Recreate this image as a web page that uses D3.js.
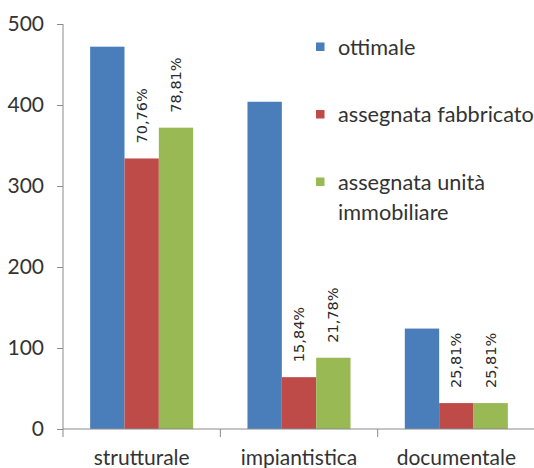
<!DOCTYPE html>
<html>
<head>
<meta charset="utf-8">
<script src="https://cdn.jsdelivr.net/npm/d3@7"></script>
<style>
  html, body { margin: 0; padding: 0; background: #fff; }
  svg { display: block; }
</style>
</head>
<body>
<svg id="chart" width="534" height="468"></svg>
<script>
// Categories and series
const categories = ["strutturale", "impiantistica", "documentale"];
const seriesNames = ["ottimale", "assegnata fabbricato", "assegnata unità immobiliare"];
const ottimale = [472, 404, 124];
const assegnataFabbricato = [334, 64, 32];
const assegnataUnita = [372, 88, 32];
const yTicks = [0, 100, 200, 300, 400, 500];
const colors = ["#4a7ebb", "#be4b48", "#98b954"];

const seriesValues = [ottimale, assegnataFabbricato, assegnataUnita];

const svg = d3.select("#chart");
const W = 534, H = 468;
const margin = { left: 63, right: 0, top: 24, bottom: 39 };
const axisFont = "Lato, 'Open Sans', sans-serif";
const textColor = "#333333";
const axisColor = "#8a8a8a";

const x = d3.scaleBand()
  .domain(categories)
  .range([margin.left, W + 1])
  .paddingInner(0.345)
  .paddingOuter(0.1725);

const xInner = d3.scaleBand()
  .domain(d3.range(seriesNames.length))
  .range([0, x.bandwidth()]);

const y = d3.scaleLinear()
  .domain([0, 500])
  .range([H - margin.bottom, margin.top]);

// Bars
const groups = svg.append("g").selectAll("g")
  .data(categories)
  .join("g")
  .attr("transform", d => `translate(${x(d)},0)`);

groups.selectAll("rect")
  .data((c, ci) => seriesValues.map((vals, si) => ({ si, v: vals[ci] })))
  .join("rect")
  .attr("x", d => xInner(d.si))
  .attr("width", xInner.bandwidth())
  .attr("y", d => y(d.v))
  .attr("height", d => y(0) - y(d.v))
  .attr("fill", d => colors[d.si]);

// Percentage labels (share of "ottimale"), rotated above the two assigned series
const pct = v => (v * 100).toFixed(2).replace(".", ",") + "%";
groups.selectAll("text.pct")
  .data((c, ci) => [1, 2].map(si => ({ si, v: seriesValues[si][ci], ref: ottimale[ci] })))
  .join("text")
  .attr("class", "pct")
  .attr("transform", d => `translate(${xInner(d.si) + xInner.bandwidth() / 2},${y(d.v) - 15}) rotate(-90)`)
  .attr("dy", "0.35em")
  .attr("text-anchor", "start")
  .attr("font-family", "'DejaVu Sans', sans-serif")
  .attr("font-size", 14.5)
  .attr("fill", "#2a2a2a")
  .text(d => pct(d.v / d.ref));

// Y axis
const yAxis = svg.append("g")
  .attr("transform", `translate(${margin.left},0)`)
  .call(d3.axisLeft(y).tickValues(yTicks).tickSize(6).tickPadding(13).tickSizeOuter(0));
yAxis.select(".domain").attr("stroke", axisColor).attr("d", `M0,${y(500)}V${y(0) + 8}`);
yAxis.selectAll(".tick line").attr("stroke", axisColor);
yAxis.selectAll(".tick text")
  .attr("font-family", axisFont)
  .attr("font-size", 21)
  .attr("fill", textColor);

// X axis with category separators
const xAxisG = svg.append("g").attr("transform", `translate(0,${y(0)})`);
xAxisG.append("line")
  .attr("x1", margin.left).attr("x2", W)
  .attr("y1", 0).attr("y2", 0)
  .attr("stroke", axisColor);
const bounds = categories.map(c => x(c) - x.step() * x.paddingInner() / 2).slice(1);
xAxisG.selectAll("line.sep")
  .data(bounds)
  .join("line")
  .attr("class", "sep")
  .attr("x1", d => d).attr("x2", d => d)
  .attr("y1", 0).attr("y2", 8)
  .attr("stroke", axisColor);
xAxisG.selectAll("text.cat")
  .data(categories)
  .join("text")
  .attr("class", "cat")
  .attr("x", d => x(d) + x.bandwidth() / 2)
  .attr("y", 36)
  .attr("text-anchor", "middle")
  .attr("font-family", axisFont)
  .attr("font-size", 21)
  .attr("fill", textColor)
  .text(d => d);

// Legend
const legend = svg.append("g").attr("transform", "translate(316,47)");
const rowStep = 67.5;
const maxLegendWidth = 205;
const items = legend.selectAll("g")
  .data(seriesNames)
  .join("g")
  .attr("transform", (d, i) => `translate(0,${i * rowStep})`);
items.append("rect")
  .attr("x", 0).attr("y", -4.5)
  .attr("width", 8.5).attr("height", 8.5)
  .attr("fill", (d, i) => colors[i]);
items.each(function (name) {
  const t = d3.select(this).append("text")
    .attr("x", 22)
    .attr("font-family", axisFont)
    .attr("font-size", 21.7)
    .attr("fill", textColor);
  const words = name.split(" ");
  let line = [];
  let tspan = t.append("tspan").attr("x", 22).attr("dy", "0.35em");
  words.forEach(w => {
    line.push(w);
    tspan.text(line.join(" "));
    if (tspan.node().getComputedTextLength() > maxLegendWidth && line.length > 1) {
      line.pop();
      tspan.text(line.join(" "));
      line = [w];
      tspan = t.append("tspan").attr("x", 22).attr("dy", 30).text(w);
    }
  });
});
</script>
</body>
</html>
